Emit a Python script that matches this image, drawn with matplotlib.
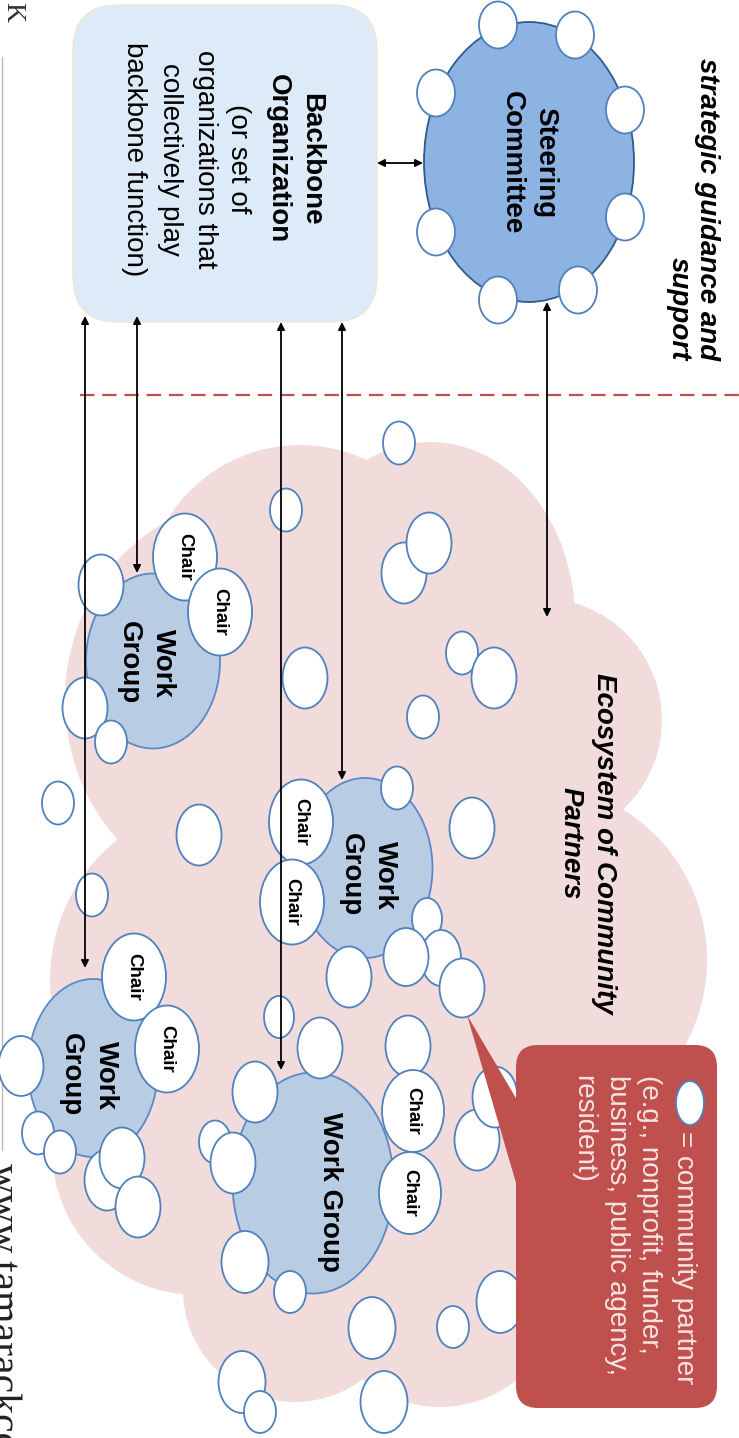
import matplotlib
matplotlib.use("Agg")
import matplotlib.pyplot as plt
from matplotlib.patches import Ellipse, FancyBboxPatch, Polygon

plt.rcParams['font.family'] = ['Liberation Sans', 'DejaVu Sans']

# ---- diagram content (pixel space of the 739x1438 picture) ----
W, H = 739, 1438

# pink "ecosystem" cloud built from lobes: cx, cy, rx, ry
cloud_cx = [300, 430, 250, 540, 530, 230, 197, 295, 440, 380, 450]
cloud_cy = [600, 620, 700, 720, 960, 980, 1150, 1290, 1285, 900, 1150]
cloud_rx = [155, 145, 185, 122, 177, 180, 145, 112, 122, 230, 140]
cloud_ry = [155, 178, 200, 122, 177, 180, 145, 112, 122, 400, 200]

# community partner bubbles: x, y, width, height
bub_x = [399, 286, 404, 429, 101, 85, 111, 462, 494, 423, 305, 58, 199, 472, 397,
         92, 427, 441, 406, 349, 462, 279, 320, 408, 255, 477, 495, 215, 233,
         21, 38, 60, 107, 122, 138, 245, 290, 372, 453, 500, 242, 260, 384]
bub_y = [443, 510, 573, 543, 585, 708, 742, 653, 678, 717, 678, 803, 835, 828, 788,
         895, 919, 958, 957, 977, 988, 1017, 1048, 1046, 1092, 1140, 1097, 1142, 1163,
         1066, 1133, 1152, 1180, 1158, 1207, 1262, 1292, 1328, 1327, 1302, 1382, 1412, 1402]
bub_w = [32, 32, 45, 45, 45, 45, 32, 32, 45, 32, 45, 32, 45, 45, 32,
         32, 30, 40, 45, 45, 45, 30, 45, 45, 45, 45, 45, 32, 45,
         45, 32, 32, 45, 45, 45, 47, 32, 47, 32, 47, 47, 32, 47]
bub_h = [43, 43, 61, 61, 61, 61, 43, 43, 61, 43, 61, 43, 61, 61, 43,
         43, 42, 56, 58, 61, 59, 42, 61, 61, 61, 61, 61, 43, 61,
         60, 43, 43, 61, 61, 61, 62, 42, 62, 42, 62, 62, 42, 62]

# bubbles around the steering committee
steer_bx = [498, 575, 436, 625, 436, 625, 498, 578]
steer_by = [25, 35, 93, 110, 232, 217, 300, 290]

# work groups: centre, size, label lines and their x positions
wg_x = [153, 365, 93, 313]
wg_y = [661, 868, 1068, 1183]
wg_w = [134, 135, 130, 161]
wg_h = [175, 180, 178, 221]
wg_labels = [["Work", "Group"], ["Work", "Group"], ["Work", "Group"], ["Work Group"]]
wg_label_x = [[163, 129], [385, 351], [106, 71], [330]]
wg_label_y = [663, 875, 1075, 1192]

# chair bubbles
chair_x = [185, 220, 301, 292, 134, 167, 413, 410]
chair_y = [557, 612, 822, 902, 977, 1049, 1111, 1193]
chair_w = [64, 64, 64, 64, 64, 64, 62, 62]
chair_h = [87, 87, 85, 85, 87, 87, 82, 82]

# double headed arrows: x, y_start, y_end
arr_x = [85, 137, 281, 342, 547]
arr_y0 = [316, 316, 322, 322, 302]
arr_y1 = [968, 573, 1070, 780, 617]

backbone_lines = ["Backbone", "Organization", "(or set of", "organizations that",
                  "collectively play", "backbone function)"]
backbone_bold = [True, True, False, False, False, False]
backbone_lx = [311, 278, 238, 205, 170, 134]

legend_lines = ["= community partner", "(e.g., nonprofit, funder,",
                "business, public agency,", "resident)"]
legend_lx = [684, 649, 617, 583]
legend_ly = [1131, 1075, 1075, 1075]

PINK = '#F2DCDB'
RED = '#C0504D'
EDGE = '#4F81BD'

fig = plt.figure(figsize=(W / 100, H / 100), dpi=100)
ax = fig.add_axes([0, 0, 1, 1])
ax.set_xlim(0, W)
ax.set_ylim(H, 0)
ax.axis('off')


def vtext(x, y, s, size=20, weight='normal', style='normal', ha='center', **kw):
    ax.text(x, y, s, rotation=270, rotation_mode='anchor', ha=ha, va='center',
            fontsize=size, fontweight=weight, fontstyle=style, zorder=8, **kw)


# cloud
for cx, cy, rx, ry in zip(cloud_cx, cloud_cy, cloud_rx, cloud_ry):
    ax.add_patch(Ellipse((cx, cy), 2 * rx, 2 * ry, facecolor=PINK, edgecolor='none', zorder=1))

# dashed separator
ax.plot([80, W], [395, 395], color=RED, lw=1.6, ls=(0, (6.5, 3.5)), zorder=2)

# backbone organisation box
ax.add_patch(FancyBboxPatch((73, 5), 304, 317, boxstyle="round,pad=0,rounding_size=45",
                            facecolor='#DDEBF9', edgecolor='#EDE6D2', lw=1, zorder=3))
for s, b, x in zip(backbone_lines, backbone_bold, backbone_lx):
    vtext(x, 159, s, weight='bold' if b else 'normal')

# steering committee
ax.add_patch(Ellipse((529, 162), 210, 280, facecolor='#8DB3E2', edgecolor='#2E5A8C', lw=1.3, zorder=3))
for bx, by in zip(steer_bx, steer_by):
    ax.add_patch(Ellipse((bx, by), 38, 47, facecolor='white', edgecolor=EDGE, lw=1.3, zorder=4))
vtext(545, 163, "Steering", weight='bold')
vtext(512, 163, "Committee", weight='bold')

vtext(707, 360, "strategic guidance and", weight='bold', style='italic', ha='right')
vtext(679, 360, "support", weight='bold', style='italic', ha='right')

vtext(604, 843, "Ecosystem of Community", weight='bold', style='italic')
vtext(571, 843, "Partners", weight='bold', style='italic')

# work groups
for x, y, w, h in zip(wg_x, wg_y, wg_w, wg_h):
    ax.add_patch(Ellipse((x, y), w, h, facecolor='#B8CCE4', edgecolor='#5A8AC6', lw=1.3, zorder=3))
for labels, lxs, ly in zip(wg_labels, wg_label_x, wg_label_y):
    for s, lx in zip(labels, lxs):
        vtext(lx, ly, s, weight='bold')

# partner bubbles
for x, y, w, h in zip(bub_x, bub_y, bub_w, bub_h):
    ax.add_patch(Ellipse((x, y), w, h, facecolor='white', edgecolor=EDGE, lw=1.3, zorder=4))

# chairs
for x, y, w, h in zip(chair_x, chair_y, chair_w, chair_h):
    ax.add_patch(Ellipse((x, y), w, h, facecolor='white', edgecolor=EDGE, lw=1.3, zorder=4))
    vtext(x, y, "Chair", size=13.5, weight='bold')

# callout
ax.add_patch(Polygon([(467, 1015), (530, 1122), (530, 1231)], closed=True,
                     facecolor=RED, edgecolor='none', zorder=5))
ax.add_patch(FancyBboxPatch((516, 1045), 201, 363, boxstyle="round,pad=0,rounding_size=22",
                            facecolor=RED, edgecolor='none', zorder=5))
ax.add_patch(Ellipse((690, 1103), 28, 44, facecolor='white', edgecolor=EDGE, lw=1.3, zorder=6))
for s, lx, ly in zip(legend_lines, legend_lx, legend_ly):
    vtext(lx, ly, s, ha='left', color='#F8E4E3')

# arrows
ax.annotate("", xy=(423, 163), xytext=(377, 163),
            arrowprops=dict(arrowstyle='<|-|>', color='black', lw=1.3,
                            mutation_scale=11, shrinkA=0, shrinkB=0), zorder=7)
for x, y0, y1 in zip(arr_x, arr_y0, arr_y1):
    ax.annotate("", xy=(x, y1), xytext=(x, y0),
                arrowprops=dict(arrowstyle='<|-|>', color='black', lw=1.3,
                                mutation_scale=11, shrinkA=0, shrinkB=0), zorder=7)

# bits of the surrounding page
ax.plot([2, 2], [57, 1150], color='#BBBBBB', lw=1, zorder=2)
ax.text(0, 12, "K", rotation=270, rotation_mode='anchor', ha='center', va='bottom',
        fontsize=20, family='Liberation Serif', color='#333333')
ax.text(-8, 1163, "www.tamarackcommunity.ca", rotation=270, rotation_mode='anchor',
        ha='left', va='baseline', fontsize=30, family='Liberation Serif', color='#222222')

fig.savefig("out.png", dpi=100)
